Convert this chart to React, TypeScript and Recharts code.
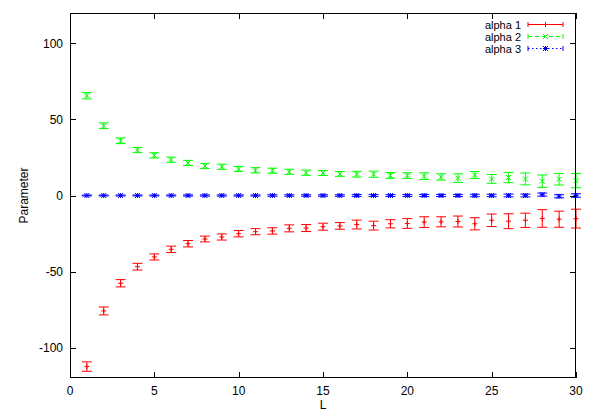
import React from 'react';
import { ScatterChart, Scatter, XAxis, YAxis, ErrorBar } from 'recharts';

const L = [1, 2, 3, 4, 5, 6, 7, 8, 9, 10, 11, 12, 13, 14, 15, 16, 17, 18, 19, 20, 21, 22, 23, 24, 25, 26, 27, 28, 29, 30];

const alpha1 = [-112.5, -75.9, -57.7, -46.8, -40.4, -35.4, -31.7, -28.6, -27.3, -25.1, -23.8, -23.3, -21.6, -21.4, -20.5, -20.0, -19.1, -19.8, -18.6, -18.4, -17.5, -17.3, -17.1, -18.6, -16.3, -16.9, -16.3, -15.1, -15.6, -15.2];
const alpha1Err = [3.1, 2.6, 2.4, 2.2, 2.0, 2.1, 2.1, 1.9, 2.0, 2.1, 2.0, 2.1, 2.3, 2.3, 2.3, 2.2, 2.9, 2.9, 2.7, 3.2, 3.5, 3.3, 3.6, 4.0, 4.1, 4.9, 4.7, 5.8, 5.3, 6.2];

const alpha2 = [65.6, 45.9, 36.0, 29.9, 26.4, 23.5, 21.4, 19.4, 18.9, 17.4, 16.6, 16.3, 15.6, 15.0, 14.8, 14.2, 14.0, 14.0, 13.2, 13.1, 12.7, 12.2, 11.4, 13.5, 10.9, 11.8, 10.9, 9.4, 10.7, 9.8];
const alpha2Err = [2.1, 1.9, 1.9, 1.7, 1.7, 1.7, 1.7, 1.7, 1.7, 1.7, 1.7, 1.7, 1.7, 1.7, 1.6, 1.6, 1.9, 2.0, 1.9, 1.9, 2.2, 2.1, 2.8, 2.3, 2.9, 3.4, 3.9, 4.1, 3.8, 4.7];

const alpha3 = [0, 0, 0, 0, 0, 0, 0, 0, 0, 0, 0, 0, 0, 0, 0, 0, 0, 0, 0, 0, 0, 0, 0, 0, 0, 0, 0, 0.6, -0.5, 0];
const alpha3Err = [0.3, 0.3, 0.3, 0.3, 0.3, 0.3, 0.4, 0.4, 0.4, 0.4, 0.4, 0.5, 0.5, 0.5, 0.5, 0.5, 0.6, 0.6, 0.6, 0.6, 0.7, 0.7, 0.7, 0.8, 0.8, 0.9, 0.9, 1.0, 1.0, 1.1];

const xTicks = [0, 5, 10, 15, 20, 25, 30];
const yTicks = [-100, -50, 0, 50, 100];
const xDomain = [0, 30];
const yDomain = [-120, 120];
const seriesNames = ['alpha 1', 'alpha 2', 'alpha 3'];

const RED = '#ff0000';
const GREEN = '#00ff00';
const BLUE = '#0000ff';
const FONT = '"Liberation Sans", Arial, Helvetica, sans-serif';

const W = 593;
const H = 415;
const PLOT_LEFT = 70;
const PLOT_TOP = 13;
const PLOT_RIGHT = 576;
const PLOT_BOTTOM = 378;

const rows = (vals: number[], errs: number[]) =>
  L.map((l, i) => ({ x: l, y: vals[i], err: errs[i] }));

const data1 = rows(alpha1, alpha1Err);
const data2 = rows(alpha2, alpha2Err);
const data3 = rows(alpha3, alpha3Err);

const S = 2.5;
const TL = 6;

const PlusMark = (p: any) => {
  const { cx, cy } = p;
  if (cx == null || cy == null) return null;
  return <path d={`M${cx - S},${cy}H${cx + S}M${cx},${cy - S}V${cy + S}`} stroke={RED} strokeWidth={1} fill="none" />;
};
const CrossMark = (p: any) => {
  const { cx, cy } = p;
  if (cx == null || cy == null) return null;
  return <path d={`M${cx - S},${cy - S}L${cx + S},${cy + S}M${cx - S},${cy + S}L${cx + S},${cy - S}`} stroke={GREEN} strokeWidth={1} fill="none" />;
};
const StarMark = (p: any) => {
  const { cx, cy } = p;
  if (cx == null || cy == null) return null;
  return (
    <path
      d={`M${cx - S},${cy}H${cx + S}M${cx},${cy - S}V${cy + S}M${cx - S},${cy - S}L${cx + S},${cy + S}M${cx - S},${cy + S}L${cx + S},${cy - S}`}
      stroke={BLUE}
      strokeWidth={1}
      fill="none"
    />
  );
};

const tickStyle = { fontSize: 12, fill: '#000', fontFamily: FONT };

// border box with inward tick marks (gnuplot style), same plot box as the chart margins
const FrameOverlay = () => {
  const px = (v: number) => PLOT_LEFT + ((v - xDomain[0]) / (xDomain[1] - xDomain[0])) * (PLOT_RIGHT - PLOT_LEFT);
  const py = (v: number) => PLOT_BOTTOM - ((v - yDomain[0]) / (yDomain[1] - yDomain[0])) * (PLOT_BOTTOM - PLOT_TOP);
  const d: string[] = [];
  xTicks.forEach((t) => {
    const x = Math.round(px(t)) + 0.5;
    d.push(`M${x},${PLOT_BOTTOM}V${PLOT_BOTTOM - TL}`);
    d.push(`M${x},${PLOT_TOP}V${PLOT_TOP + TL}`);
  });
  yTicks.forEach((t) => {
    const y = Math.round(py(t)) + 0.5;
    d.push(`M${PLOT_LEFT},${y}H${PLOT_LEFT + TL}`);
    d.push(`M${PLOT_RIGHT},${y}H${PLOT_RIGHT - TL}`);
  });
  return (
    <svg width={W} height={H} style={{ position: 'absolute', left: 0, top: 0, pointerEvents: 'none' }}>
      <rect x={PLOT_LEFT + 0.5} y={PLOT_TOP + 0.5} width={PLOT_RIGHT - PLOT_LEFT - 1} height={PLOT_BOTTOM - PLOT_TOP - 1} fill="none" stroke="#000" strokeWidth={1} />
      <path d={d.join('')} stroke="#000" strokeWidth={1} fill="none" />
    </svg>
  );
};

const LegendOverlay = () => {
  const textX = 521;
  const x1 = 528;
  const x2 = 563;
  const xm = (x1 + x2) / 2;
  const ys = [24.5, 36.5, 48.5];
  const colors = [RED, GREEN, BLUE];
  const dashes = [undefined, '4 3', '1.5 2.5'];
  return (
    <svg width={W} height={H} style={{ position: 'absolute', left: 0, top: 0, pointerEvents: 'none' }}>
      {seriesNames.map((name, i) => {
        const y = ys[i];
        const c = colors[i];
        return (
          <g key={name}>
            <text x={textX} y={y} textAnchor="end" dominantBaseline="central" fontSize={11} fontFamily={FONT} fill="#000">
              {name}
            </text>
            <line x1={x1} y1={y} x2={x2} y2={y} stroke={c} strokeWidth={1} strokeDasharray={dashes[i]} />
            <line x1={x1} y1={y - 2.5} x2={x1} y2={y + 2.5} stroke={c} strokeWidth={1} />
            <line x1={x2} y1={y - 2.5} x2={x2} y2={y + 2.5} stroke={c} strokeWidth={1} />
            {i === 0 && <PlusMark cx={xm} cy={y} />}
            {i === 1 && <CrossMark cx={xm} cy={y} />}
            {i === 2 && <StarMark cx={xm} cy={y} />}
          </g>
        );
      })}
    </svg>
  );
};

export default function App() {
  return (
    <div style={{ position: 'absolute', left: 0, top: 0, width: W, height: H, background: '#fff' }}>
      <ScatterChart width={W} height={H} margin={{ top: PLOT_TOP, right: W - PLOT_RIGHT, bottom: 0, left: 0 }}>
        <XAxis
          type="number"
          dataKey="x"
          domain={xDomain}
          ticks={xTicks}
          height={H - PLOT_BOTTOM}
          tickSize={0}
          tickMargin={8}
          tick={tickStyle}
          axisLine={false}
          tickLine={false}
          label={{
            content: (props: any) => {
              const vb = props.viewBox || { x: PLOT_LEFT, y: PLOT_BOTTOM, width: PLOT_RIGHT - PLOT_LEFT };
              return (
                <text x={vb.x + vb.width / 2} y={vb.y + 27} textAnchor="middle" dominantBaseline="central" fontSize={12} fontFamily={FONT} fill="#000">
                  L
                </text>
              );
            },
          }}
        />
        <YAxis
          type="number"
          dataKey="y"
          domain={yDomain}
          ticks={yTicks}
          width={PLOT_LEFT}
          tickSize={0}
          tickMargin={7}
          tick={tickStyle}
          axisLine={false}
          tickLine={false}
          label={{
            content: (props: any) => {
              const vb = props.viewBox || { x: 0, y: PLOT_TOP, height: PLOT_BOTTOM - PLOT_TOP };
              const cx = vb.x + 24;
              const cy = vb.y + vb.height / 2;
              return (
                <text x={cx} y={cy} transform={`rotate(-90 ${cx} ${cy})`} textAnchor="middle" dominantBaseline="central" fontSize={12} fontFamily={FONT} fill="#000">
                  Parameter
                </text>
              );
            },
          }}
        />
        <Scatter name={seriesNames[0]} data={data1} dataKey="y" shape={PlusMark} isAnimationActive={false}>
          <ErrorBar dataKey="err" direction="y" width={5} stroke={RED} strokeWidth={1} isAnimationActive={false} />
        </Scatter>
        <Scatter name={seriesNames[1]} data={data2} dataKey="y" shape={CrossMark} isAnimationActive={false}>
          <ErrorBar dataKey="err" direction="y" width={5} stroke={GREEN} strokeWidth={1} isAnimationActive={false} />
        </Scatter>
        <Scatter name={seriesNames[2]} data={data3} dataKey="y" shape={StarMark} isAnimationActive={false}>
          <ErrorBar dataKey="err" direction="y" width={5} stroke={BLUE} strokeWidth={1} isAnimationActive={false} />
        </Scatter>
      </ScatterChart>
      <FrameOverlay />
      <LegendOverlay />
    </div>
  );
}
